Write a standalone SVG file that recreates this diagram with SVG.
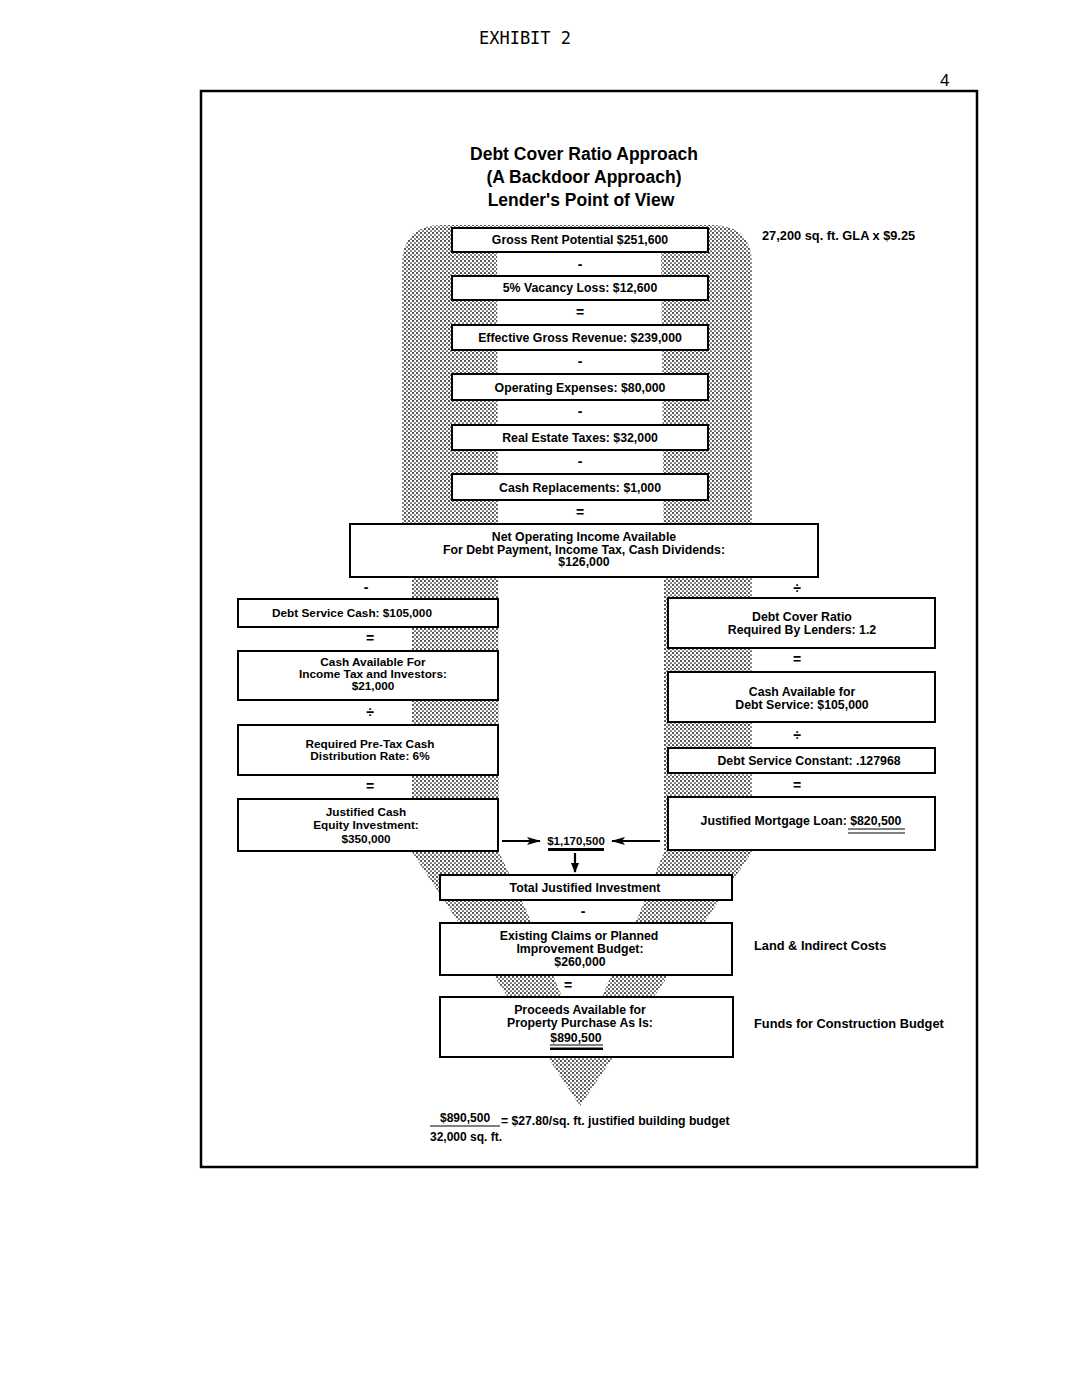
<svg xmlns="http://www.w3.org/2000/svg" width="1065" height="1380" viewBox="0 0 1065 1380">
<defs>
<pattern id="stip" width="4" height="4" patternUnits="userSpaceOnUse">
<rect width="4" height="4" fill="#fff"/>
<circle cx="1" cy="1" r="0.95" fill="#111"/>
<circle cx="3" cy="3" r="0.85" fill="#111"/>
</pattern>
<marker id="ah" viewBox="0 0 14 8" refX="13" refY="4" markerWidth="14" markerHeight="8" markerUnits="userSpaceOnUse" orient="auto">
<path d="M0,0 L14,4 L0,8 L3,4 Z" fill="#000"/>
</marker>
<marker id="ahd" viewBox="0 0 10 8" refX="9" refY="4" markerWidth="10" markerHeight="8" markerUnits="userSpaceOnUse" orient="auto">
<path d="M0,0 L10,4 L0,8 Z" fill="#000"/>
</marker>
</defs>
<style>
.box{fill:#fff;stroke:#000;stroke-width:2}
.t{font-family:"Liberation Sans",Arial,Helvetica,sans-serif;font-weight:bold;font-size:12.3px;fill:#000;text-anchor:middle}
.tL{font-size:11.8px}
.tl{font-family:"Liberation Sans",Arial,Helvetica,sans-serif;font-weight:bold;font-size:12.8px;fill:#000}
.op{font-family:"Liberation Sans",Arial,Helvetica,sans-serif;font-weight:bold;font-size:14px;fill:#000;text-anchor:middle}
.title{font-family:"Liberation Sans",Arial,Helvetica,sans-serif;font-weight:bold;font-size:17.5px;fill:#000;text-anchor:middle}
.ul{stroke:#000;stroke-width:1.2}
.conn{stroke:#000;stroke-width:2.2;fill:none}
</style>
<rect width="1065" height="1380" fill="#fff"/>
<text x="525" y="44" font-family="DejaVu Sans Mono,Liberation Mono,monospace" font-size="17" text-anchor="middle">EXHIBIT 2</text>
<text x="940" y="86" font-family="Liberation Sans,Arial,sans-serif" font-size="17">4</text>
<rect x="201" y="91" width="776" height="1076" fill="none" stroke="#000" stroke-width="2.5"/>
<g id="title">
<text class="title" x="584" y="160">Debt Cover Ratio Approach</text>
<text class="title" x="584" y="183">(A Backdoor Approach)</text>
<text class="title" x="581" y="206">Lender's Point of View</text>
</g>
<g id="stipple">
<path d="M402,265 Q402,225 442,225 L712,225 Q752,225 752,265 L752,852 L580,1106 L412,852 L412,578 L402,578 Z" fill="url(#stip)"/>
<path d="M497,240 L661,240 L664,580 L664,852 L640,912 L607,985 L583,1045 L557,985 L527,912 L499,852 Z" fill="#fff"/>
</g>
<g id="operators">
<text class="op" x="580" y="269">-</text>
<text class="op" x="580" y="317">=</text>
<text class="op" x="580" y="366">-</text>
<text class="op" x="580" y="416">-</text>
<text class="op" x="580" y="466">-</text>
<text class="op" x="580" y="517">=</text>
<text class="op" x="366" y="592">-</text>
<text class="op" x="797" y="593">÷</text>
<text class="op" x="370" y="643">=</text>
<text class="op" x="370" y="717">÷</text>
<text class="op" x="370" y="791">=</text>
<text class="op" x="797" y="664">=</text>
<text class="op" x="797" y="740">÷</text>
<text class="op" x="797" y="790">=</text>
<text class="op" x="583" y="916">-</text>
<text class="op" x="568" y="990">=</text>
</g>
<g id="connectors">
<line class="conn" x1="502" y1="841" x2="540" y2="841" marker-end="url(#ah)"/>
<line class="conn" x1="660" y1="841" x2="612" y2="841" marker-end="url(#ah)"/>
<line class="conn" x1="575" y1="853" x2="575" y2="872" marker-end="url(#ahd)"/>
</g>
<g id="gross-rent">
<rect class="box" x="452" y="228" width="256" height="24"/>
<text class="t" x="580" y="244">Gross Rent Potential  $251,600</text>
</g>
<g id="vacancy">
<rect class="box" x="452" y="276" width="256" height="24"/>
<text class="t" x="580" y="292">5% Vacancy Loss: $12,600</text>
</g>
<g id="egr">
<rect class="box" x="452" y="325" width="256" height="25"/>
<text class="t" x="580" y="342">Effective Gross Revenue: $239,000</text>
</g>
<g id="opex">
<rect class="box" x="452" y="374" width="256" height="26"/>
<text class="t" x="580" y="392">Operating Expenses: $80,000</text>
</g>
<g id="taxes">
<rect class="box" x="452" y="425" width="256" height="25"/>
<text class="t" x="580" y="442">Real Estate Taxes: $32,000</text>
</g>
<g id="replacements">
<rect class="box" x="452" y="474" width="256" height="26"/>
<text class="t" x="580" y="492">Cash Replacements: $1,000</text>
</g>
<text class="tl" x="762" y="240">27,200 sq. ft. GLA x $9.25</text>
<g id="noi">
<rect class="box" x="350" y="524" width="468" height="53"/>
<text class="t" x="584" y="541">Net Operating Income Available</text>
<text class="t" x="584" y="553.5">For Debt Payment, Income Tax, Cash Dividends:</text>
<text class="t" x="584" y="566">$126,000</text>
</g>
<g id="debt-service-cash">
<rect class="box" x="238" y="599" width="260" height="28"/>
<text class="t tL" x="352" y="617">Debt Service Cash: $105,000</text>
</g>
<g id="cash-available-investors">
<rect class="box" x="238" y="651" width="260" height="49"/>
<text class="t tL" x="373" y="666">Cash Available For</text>
<text class="t tL" x="373" y="678">Income Tax and Investors:</text>
<text class="t tL" x="373" y="690">$21,000</text>
</g>
<g id="distribution-rate">
<rect class="box" x="238" y="725" width="260" height="50"/>
<text class="t tL" x="370" y="748">Required Pre-Tax Cash</text>
<text class="t tL" x="370" y="760">Distribution Rate: 6%</text>
</g>
<g id="equity">
<rect class="box" x="238" y="799" width="260" height="52"/>
<text class="t tL" x="366" y="816">Justified Cash</text>
<text class="t tL" x="366" y="829">Equity Investment:</text>
<text class="t tL" x="366" y="843">$350,000</text>
</g>
<g id="dcr">
<rect class="box" x="668" y="598" width="267" height="50"/>
<text class="t" x="802" y="621">Debt Cover Ratio</text>
<text class="t" x="802" y="633.5">Required By Lenders: 1.2</text>
</g>
<g id="cash-available-debt">
<rect class="box" x="668" y="672" width="267" height="50"/>
<text class="t" x="802" y="696">Cash Available for</text>
<text class="t" x="802" y="708.5">Debt Service: $105,000</text>
</g>
<g id="constant">
<rect class="box" x="668" y="748" width="267" height="25"/>
<text class="t" x="809" y="765">Debt Service Constant: .127968</text>
</g>
<g id="mortgage">
<rect class="box" x="668" y="797" width="267" height="53"/>
<text class="t" x="801" y="825">Justified Mortgage Loan: $820,500</text>
<line class="ul" x1="848" y1="829" x2="905" y2="829"/>
<line class="ul" x1="848" y1="833" x2="905" y2="833"/>
</g>
<g id="total-value">
<text class="t" x="576" y="845" style="font-size:11.5px">$1,170,500</text>
<rect x="548" y="848" width="56" height="3" fill="#000"/>
</g>
<g id="total-investment">
<rect class="box" x="440" y="875" width="292" height="25"/>
<text class="t" x="585" y="892">Total Justified Investment</text>
</g>
<g id="claims">
<rect class="box" x="440" y="923" width="292" height="52"/>
<text class="t" x="579" y="940">Existing Claims or Planned</text>
<text class="t" x="580" y="953">Improvement Budget:</text>
<text class="t" x="580" y="966">$260,000</text>
</g>
<text class="tl" x="754" y="950">Land &amp; Indirect Costs</text>
<g id="proceeds">
<rect class="box" x="440" y="997" width="293" height="60"/>
<text class="t" x="580" y="1014">Proceeds Available for</text>
<text class="t" x="580" y="1027">Property Purchase As Is:</text>
<text class="t" x="576" y="1042">$890,500</text>
<line class="ul" x1="550" y1="1045" x2="603" y2="1045"/>
<rect x="550" y="1047.5" width="53" height="2.5" fill="#000"/>
</g>
<text class="tl" x="754" y="1028">Funds for Construction Budget</text>
<g id="formula">
<text class="tl" x="440" y="1122" style="font-size:12px">$890,500</text>
<line class="ul" x1="430" y1="1126" x2="500" y2="1126"/>
<text class="tl" x="501" y="1125" style="font-size:12.2px">= $27.80/sq. ft. justified building budget</text>
<text class="tl" x="430" y="1141" style="font-size:12px">32,000 sq. ft.</text>
</g>
</svg>
